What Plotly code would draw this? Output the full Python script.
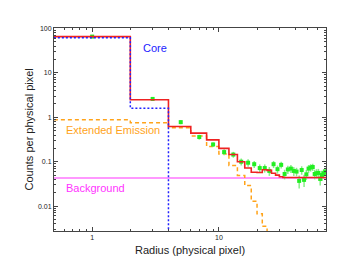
import numpy as np
import plotly.graph_objects as go

# Bin edges (physical pixels) and bin centres
bin_edges = list(range(0, 72, 2))
radius = [1 + 2 * i for i in range(35)]

counts = [66, 2.6, 0.78, 0.36, 0.245, 0.165, 0.145, 0.1, 0.095, 0.088,
          0.072, 0.072, 0.062, 0.088, 0.068, 0.085, 0.053, 0.067, 0.07, 0.062,
          0.06, 0.037, 0.065, 0.039, 0.052, 0.07, 0.074, 0.076, 0.053, 0.055,
          0.056, 0.041, 0.05, 0.055, 0.06]
count_err = [0.8, 0.17, 0.08, 0.045, 0.03, 0.025, 0.022, 0.018, 0.018, 0.016,
             0.015, 0.015, 0.014, 0.016, 0.014, 0.015, 0.013, 0.014, 0.014, 0.014,
             0.013, 0.012, 0.014, 0.012, 0.013, 0.014, 0.014, 0.014, 0.013, 0.013,
             0.013, 0.012, 0.013, 0.013, 0.013]

total_model = [66, 2.5, 0.62, 0.44, 0.31, 0.2, 0.145, 0.1, 0.072, 0.058,
               0.057, 0.066, 0.064, 0.055, 0.05, 0.046] + [0.044] * 19
core_model = [62, 1.6] + [1e-6] * 33
ext_model = [0.88, 0.76, 0.58, 0.38, 0.22, 0.15, 0.082, 0.049, 0.029, 0.0129,
             0.0067, 0.0035] + [1e-6] * 23
background = [0.043] * 35

# step-plot x positions (log axis: the zero edge is replaced by a value left of range)
x_step = [max(e, 0.3) for e in bin_edges]

def steps(vals):
    return list(vals) + [vals[-1]]

fig = go.Figure()
fig.add_trace(go.Scatter(x=x_step, y=steps(background), mode="lines", line_shape="hv",
                         line=dict(color="#ff33ff", width=1.2), showlegend=False))
fig.add_trace(go.Scatter(x=x_step, y=steps(ext_model), mode="lines", line_shape="hv",
                         line=dict(color="#ffa31a", width=1.5, dash="4px,3px"), showlegend=False))
fig.add_trace(go.Scatter(x=radius, y=counts, mode="markers",
                         marker=dict(color="#22ee22", size=4, symbol="square"),
                         error_y=dict(type="data", array=count_err, color="#88ee88",
                                      thickness=1.5, width=0),
                         showlegend=False))
fig.add_trace(go.Scatter(x=x_step, y=steps(total_model), mode="lines", line_shape="hv",
                         line=dict(color="#ee2222", width=1.6), showlegend=False))
fig.add_trace(go.Scatter(x=x_step, y=steps(core_model), mode="lines", line_shape="hv",
                         line=dict(color="#2222ff", width=1.5, dash="2px,2px"), showlegend=False))

fig.add_annotation(x=np.log10(2.42), y=np.log10(36), text="Core", showarrow=False,
                   xanchor="left", font=dict(color="#2222ff", size=11))
fig.add_annotation(x=np.log10(0.605), y=np.log10(0.53), text="Extended Emission", showarrow=False,
                   xanchor="left", font=dict(color="#ffa31a", size=11))
fig.add_annotation(x=np.log10(0.605), y=np.log10(0.026), text="Background", showarrow=False,
                   xanchor="left", font=dict(color="#ff33ff", size=11))

# axis titles
fig.add_annotation(x=0.5, y=0, xref="paper", yref="paper", yanchor="top", yshift=-11,
                   text="Radius (physical pixel)", showarrow=False,
                   font=dict(size=11, color="#222"))
fig.add_annotation(x=0, y=0.5, xref="paper", yref="paper", xanchor="center", xshift=-26,
                   text="Counts per physical pixel", textangle=-90, showarrow=False,
                   font=dict(size=11, color="#222"))

axis_common = dict(showgrid=False, zeroline=False, showline=True, linecolor="#444",
                   linewidth=1, mirror="ticks", ticks="inside", ticklen=4,
                   tickcolor="#444", tickfont=dict(size=7, color="#222"),
                   automargin=False)

fig.update_xaxes(type="log", range=[np.log10(0.5), np.log10(70)],
                 tickvals=[1, 10], ticktext=["1", "10"],
                 minor=dict(ticks="inside", ticklen=2, tickcolor="#444",
                            tickvals=[0.5, 0.6, 0.7, 0.8, 0.9, 2, 3, 4, 5, 6, 7, 8, 9,
                                      20, 30, 40, 50, 60, 70]),
                 **axis_common)
fig.update_yaxes(type="log", range=[np.log10(0.00275), np.log10(103)],
                 tickvals=[0.01, 0.1, 1, 10, 100], ticktext=["0.01", "0.1", "1", "10", "100"],
                 minor=dict(ticks="inside", ticklen=2, tickcolor="#444",
                            tickvals=[v * m for m in [0.001, 0.01, 0.1, 1, 10]
                                      for v in [2, 3, 4, 5, 6, 7, 8, 9]]),
                 **axis_common)

fig.update_layout(width=363, height=272, margin=dict(l=54, r=37, t=28, b=41),
                  paper_bgcolor="white", plot_bgcolor="white",
                  font=dict(family="Liberation Sans, Arial, sans-serif"))

fig.write_html("out.html", config={"displayModeBar": False},
               post_script="document.body.style.margin='0';")
